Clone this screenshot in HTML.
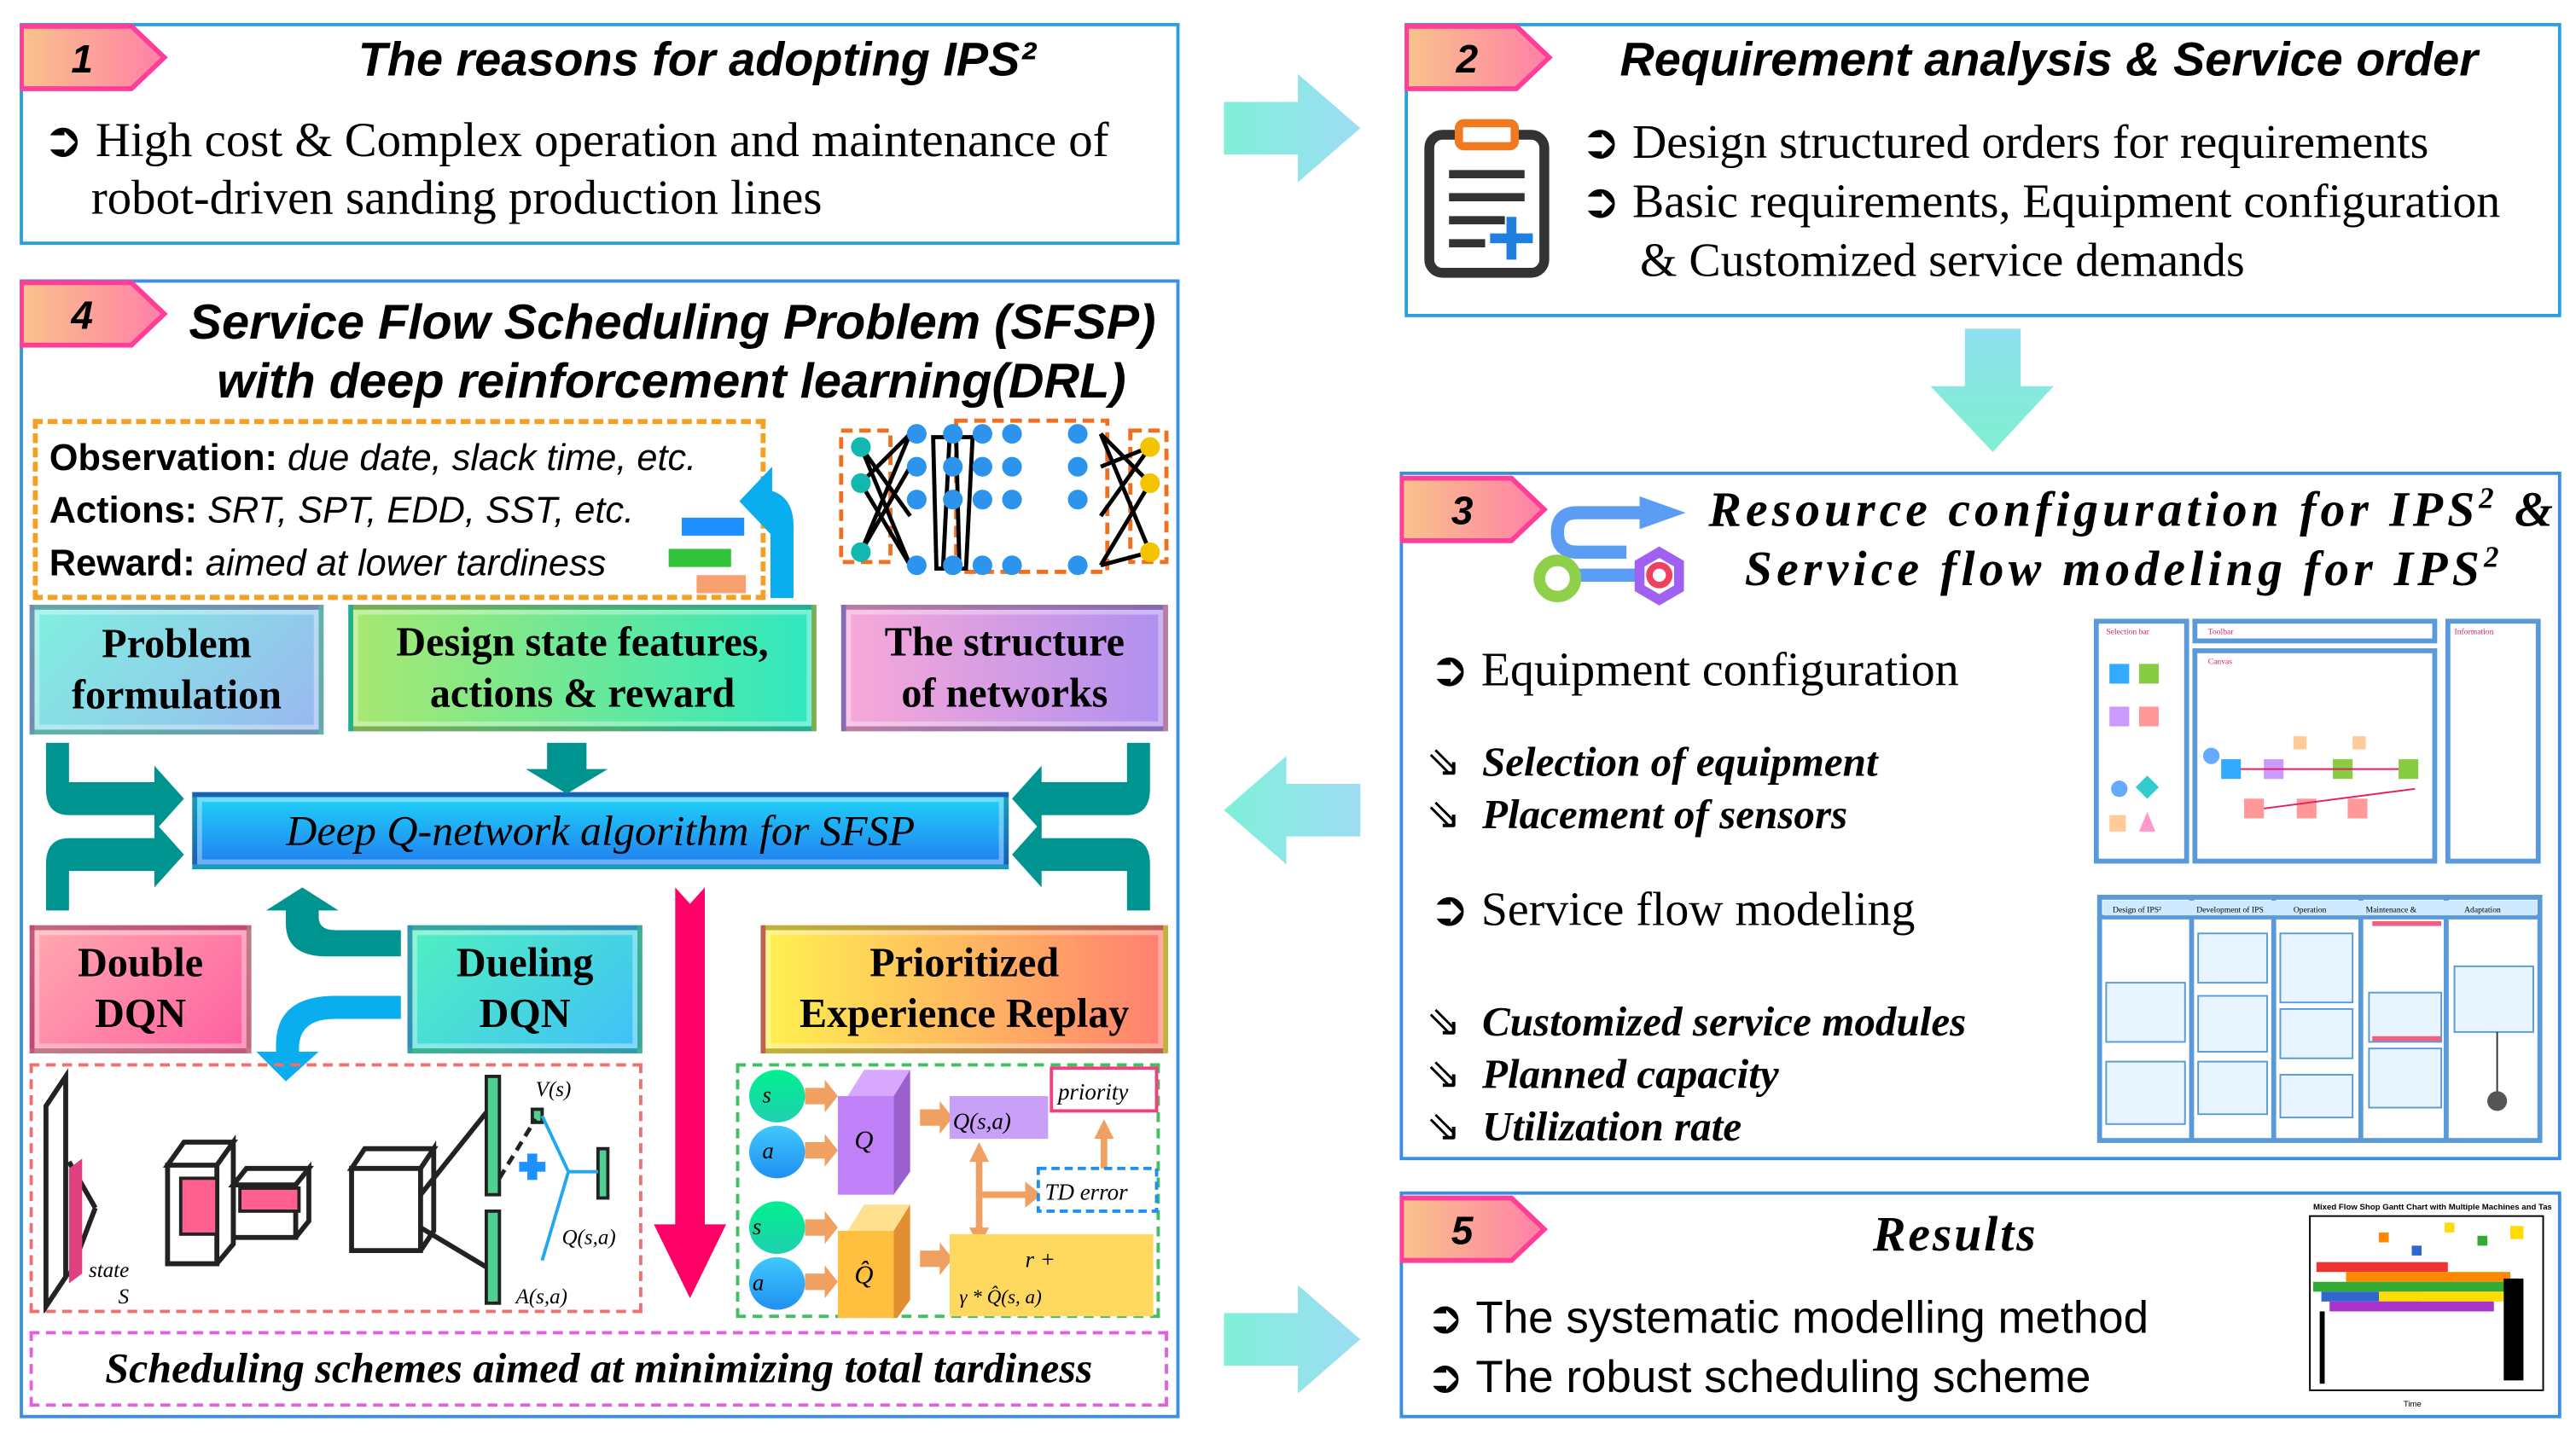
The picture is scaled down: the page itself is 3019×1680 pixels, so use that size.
<!DOCTYPE html>
<html><head><meta charset="utf-8"><style>
*{margin:0;padding:0;box-sizing:border-box}
html,body{width:3019px;height:1680px;background:#fff;overflow:hidden}
#w{position:absolute;left:0;top:0;width:1568px;height:872px;transform:scale(1.9254,1.9266);transform-origin:0 0}
.a{position:absolute}
.box{position:absolute;border:2px solid #2a9fe0}
.t{position:absolute;white-space:nowrap;color:#000}
.ser{font-family:"Liberation Serif",serif}
.sans{font-family:"Liberation Sans",sans-serif}
.bi{font-weight:bold;font-style:italic}
.gbox{position:absolute;border:3px solid rgba(0,0,0,.25);box-shadow:inset 0 0 0 3px rgba(255,255,255,.35);display:flex;align-items:center;justify-content:center;text-align:center;font-family:"Liberation Serif",serif;font-weight:bold;font-size:25px;line-height:31px}
</style></head><body><div id="w">
<svg class="a" style="left:0;top:0" width="1568" height="872">
<defs>
<linearGradient id="bg" x1="0" x2="1"><stop offset="0" stop-color="#f9c38a"/><stop offset="1" stop-color="#ff7fa8"/></linearGradient>
<linearGradient id="ar" x1="0" x2="1"><stop offset="0" stop-color="#7ff0d8"/><stop offset="1" stop-color="#9fdcf5"/></linearGradient>
<linearGradient id="ad" x1="0" y1="0" x2="0" y2="1"><stop offset="0" stop-color="#8fe0f0"/><stop offset="1" stop-color="#7ff0d0"/></linearGradient>
</defs>
<polygon points="745,62 790,62 790,45 828,78 790,111 790,94 745,94" fill="url(#ar)"/>
<polygon points="745,799 790,799 790,782 828,815 790,848 790,831 745,831" fill="url(#ar)"/>
<polygon points="828,477 783,477 783,460 745,493 783,526 783,509 828,509" fill="url(#ar)"/>
<polygon points="1196,200 1230,200 1230,235 1250,235 1213,275 1175,235 1196,235" fill="url(#ad)"/>
</svg>

<!-- Box 1 -->
<div class="box" style="left:12px;top:14px;width:706px;height:135px"></div>
<svg class="a" style="left:12px;top:14px" width="100" height="42"><defs><linearGradient id="bg" x1="0" x2="1"><stop offset="0" stop-color="#f9c38a"/><stop offset="1" stop-color="#ff7fa8"/></linearGradient></defs><polygon points="1,2 68,2 88,21 68,40 1,40" fill="url(#bg)" stroke="#ff3e9a" stroke-width="3"/><text x="38" y="30" font-family="Liberation Sans" font-weight="bold" font-style="italic" font-size="24" text-anchor="middle">1</text></svg>
<div class="t sans bi" style="left:218px;top:21px;font-size:29px">The reasons for adopting IPS²</div>
<div class="t ser" style="left:26px;top:69px;font-size:29.5px;line-height:35px">➲ High cost &amp; Complex operation and maintenance of<br>&nbsp;&nbsp;&nbsp;&nbsp;robot-driven sanding production lines</div>

<!-- Box 2 -->
<div class="box" style="left:855px;top:14px;width:704px;height:179px"></div>
<svg class="a" style="left:855px;top:14px" width="100" height="42"><polygon points="1,2 68,2 88,21 68,40 1,40" fill="url(#bg)" stroke="#ff3e9a" stroke-width="3"/><text x="38" y="30" font-family="Liberation Sans" font-weight="bold" font-style="italic" font-size="24" text-anchor="middle">2</text></svg>
<div class="t sans bi" style="left:986px;top:21px;font-size:29px">Requirement analysis &amp; Service order</div>
<svg class="a" style="left:866px;top:72px" width="80" height="98">
<rect x="4" y="10" width="70" height="84" rx="8" fill="none" stroke="#333" stroke-width="6"/>
<rect x="22" y="3" width="34" height="14" rx="3" fill="#fff" stroke="#f07a20" stroke-width="5"/>
<g stroke="#333" stroke-width="5"><line x1="16" y1="34" x2="62" y2="34"/><line x1="16" y1="48" x2="62" y2="48"/><line x1="16" y1="62" x2="50" y2="62"/><line x1="16" y1="76" x2="38" y2="76"/></g>
<g stroke="#1e7fe0" stroke-width="6"><line x1="54" y1="60" x2="54" y2="86"/><line x1="41" y1="73" x2="67" y2="73"/></g>
</svg>
<div class="t ser" style="left:962px;top:69px;font-size:29px;line-height:36px">➲ Design structured orders for requirements<br>➲ Basic requirements, Equipment configuration<br>&nbsp;&nbsp;&nbsp;&nbsp;&nbsp;&amp; Customized service demands</div>

<!-- Box 3 -->
<div class="box" style="left:852px;top:287px;width:707px;height:419px;border-color:#3b8fe0"></div>
<svg class="a" style="left:852px;top:289px" width="100" height="42"><polygon points="1,2 68,2 88,21 68,40 1,40" fill="url(#bg)" stroke="#ff3e9a" stroke-width="3"/><text x="38" y="30" font-family="Liberation Sans" font-weight="bold" font-style="italic" font-size="24" text-anchor="middle">3</text></svg>
<svg class="a" style="left:930px;top:298px" width="100" height="80">
<path d="M70,14 H30 Q18,14 18,26 Q18,38 30,38 H60" fill="none" stroke="#5b9cf5" stroke-width="8"/>
<polygon points="68,4 96,14 68,24" fill="#5b9cf5"/>
<line x1="30" y1="52" x2="68" y2="52" stroke="#5b9cf5" stroke-width="8"/>
<circle cx="18" cy="54" r="11" fill="none" stroke="#8fd04a" stroke-width="7"/>
<polygon points="80,38 92,45 92,60 80,67 68,60 68,45" fill="#fff" stroke="#a060f0" stroke-width="6"/>
<circle cx="80" cy="52" r="6" fill="none" stroke="#f04060" stroke-width="4"/>
</svg>
<div class="t ser bi" style="left:1040px;top:293px;font-size:30px;letter-spacing:2.6px">Resource configuration for IPS<sup style="font-size:18px">2</sup> &amp;</div>
<div class="t ser bi" style="left:1062px;top:329px;font-size:30px;letter-spacing:2.7px">Service flow modeling for IPS<sup style="font-size:18px">2</sup></div>
<div class="t ser" style="left:870px;top:390px;font-size:29px">➲ Equipment configuration</div>
<div class="t ser bi" style="left:868px;top:448px;font-size:25.5px;line-height:32px"><span style="font-weight:normal;font-style:normal">⇘</span>&nbsp; Selection of equipment<br><span style="font-weight:normal;font-style:normal">⇘</span>&nbsp; Placement of sensors</div>
<div class="t ser" style="left:870px;top:536px;font-size:29px">➲ Service flow modeling</div>
<div class="t ser bi" style="left:868px;top:606px;font-size:25.5px;line-height:32px"><span style="font-weight:normal;font-style:normal">⇘</span>&nbsp; Customized service modules<br><span style="font-weight:normal;font-style:normal">⇘</span>&nbsp; Planned capacity<br><span style="font-weight:normal;font-style:normal">⇘</span>&nbsp; Utilization rate</div>
<svg class="a" style="left:1274px;top:376px" width="275" height="322" font-family="Liberation Serif" font-size="5">
<g fill="none" stroke="#5a9ad8" stroke-width="3">
<rect x="2" y="2" width="55" height="146"/><rect x="62" y="2" width="146" height="12"/><rect x="62" y="20" width="146" height="128"/><rect x="216" y="2" width="55" height="146"/></g>
<text x="8" y="10" fill="#e02060">Selection bar</text><text x="70" y="10" fill="#e02060">Toolbar</text><text x="70" y="28" fill="#e02060">Canvas</text><text x="220" y="10" fill="#e02060">Information</text>
<g fill="#3af"><rect x="10" y="28" width="12" height="12"/><rect x="10" y="54" width="12" height="12" fill="#c9f"/><circle cx="16" cy="104" r="5" fill="#6af"/><rect x="10" y="120" width="10" height="10" fill="#fc9"/></g>
<g fill="#8c4"><rect x="28" y="28" width="12" height="12"/><rect x="28" y="54" width="12" height="12" fill="#f99"/><rect x="28" y="98" width="10" height="10" fill="#3cc" transform="rotate(45 33 103)"/><polygon points="33,118 38,130 28,130" fill="#f9c"/></g>
<g><rect x="78" y="86" width="12" height="12" fill="#3af"/><rect x="104" y="86" width="12" height="12" fill="#c9f"/><rect x="146" y="86" width="12" height="12" fill="#8c4"/><rect x="186" y="86" width="12" height="12" fill="#8c4"/><rect x="92" y="110" width="12" height="12" fill="#f99"/><rect x="124" y="110" width="12" height="12" fill="#f99"/><rect x="155" y="110" width="12" height="12" fill="#f99"/>
<line x1="90" y1="92" x2="186" y2="92" stroke="#e02060"/><line x1="104" y1="116" x2="196" y2="104" stroke="#e02060"/><circle cx="72" cy="84" r="5" fill="#6af"/><rect x="158" y="72" width="8" height="8" fill="#fc9"/><rect x="122" y="72" width="8" height="8" fill="#fc9"/></g>
<g fill="none" stroke="#5a9ad8" stroke-width="3"><rect x="4" y="170" width="268" height="148"/><line x1="4" y1="182" x2="272" y2="182"/><line x1="60" y1="170" x2="60" y2="318"/><line x1="110" y1="170" x2="110" y2="318"/><line x1="163" y1="170" x2="163" y2="318"/><line x1="215" y1="170" x2="215" y2="318"/></g>
<rect x="6" y="172" width="264" height="9" fill="#cfeaff"/>
<text x="12" y="179">Design of IPS²</text><text x="63" y="179">Development of IPS</text><text x="122" y="179">Operation</text><text x="166" y="179">Maintenance &amp;</text><text x="226" y="179">Adaptation</text>
<g fill="#e8f4ff" stroke="#5a9ad8"><rect x="8" y="222" width="48" height="36"/><rect x="8" y="270" width="48" height="38"/><rect x="64" y="192" width="42" height="30"/><rect x="64" y="230" width="42" height="34"/><rect x="64" y="270" width="42" height="32"/><rect x="114" y="192" width="44" height="42"/><rect x="114" y="238" width="44" height="30"/><rect x="114" y="278" width="44" height="26"/><rect x="168" y="228" width="44" height="30"/><rect x="168" y="262" width="44" height="36"/><rect x="220" y="212" width="48" height="40"/></g>
<line x1="170" y1="186" x2="212" y2="186" stroke="#f06080" stroke-width="3"/><line x1="170" y1="256" x2="212" y2="256" stroke="#f06080" stroke-width="3"/>
<line x1="246" y1="252" x2="246" y2="290" stroke="#333"/><circle cx="246" cy="294" r="6" fill="#555"/>
</svg>

<!-- Box 5 -->
<div class="box" style="left:852px;top:725px;width:707px;height:138px;border-color:#3b8fe0"></div>
<svg class="a" style="left:852px;top:727px" width="100" height="42"><polygon points="1,2 68,2 88,21 68,40 1,40" fill="url(#bg)" stroke="#ff3e9a" stroke-width="3"/><text x="38" y="30" font-family="Liberation Sans" font-weight="bold" font-style="italic" font-size="24" text-anchor="middle">5</text></svg>
<div class="t ser bi" style="left:1140px;top:735px;font-size:30px;letter-spacing:1.5px">Results</div>
<div class="t sans" style="left:868px;top:784px;font-size:27.5px;line-height:36px">➲ The systematic modelling method<br>➲ The robust scheduling scheme</div>
<svg class="a" style="left:1388px;top:730px" width="165" height="128" font-family="Liberation Sans" font-size="5">
<text x="20" y="6" font-weight="bold">Mixed Flow Shop Gantt Chart with Multiple Machines and Tasks</text>
<rect x="18" y="10" width="142" height="106" fill="none" stroke="#000"/>
<rect x="22" y="38" width="80" height="6" fill="#e33"/><rect x="40" y="44" width="100" height="6" fill="#f80"/><rect x="20" y="50" width="120" height="6" fill="#3a3"/><rect x="25" y="56" width="60" height="6" fill="#36c"/><rect x="60" y="56" width="80" height="6" fill="#fd0"/><rect x="30" y="62" width="100" height="6" fill="#a3c"/>
<rect x="60" y="20" width="6" height="6" fill="#f80"/><rect x="100" y="14" width="6" height="6" fill="#fd0"/><rect x="140" y="16" width="8" height="8" fill="#fd0"/><rect x="120" y="22" width="6" height="6" fill="#3a3"/><rect x="80" y="28" width="6" height="6" fill="#36c"/>
<g fill="#000"><rect x="24" y="68" width="3" height="44"/><rect x="136" y="48" width="12" height="62"/></g>
<text x="75" y="126">Time</text>
</svg>

<!-- Box 4 -->
<div class="box" style="left:12px;top:170px;width:706px;height:693px;border-color:#3b8fe0"></div>
<svg class="a" style="left:12px;top:170px" width="100" height="42"><polygon points="1,2 68,2 88,21 68,40 1,40" fill="url(#bg)" stroke="#ff3e9a" stroke-width="3"/><text x="38" y="30" font-family="Liberation Sans" font-weight="bold" font-style="italic" font-size="24" text-anchor="middle">4</text></svg>
<div class="t sans bi" style="left:115px;top:180px;font-size:30px">Service Flow Scheduling Problem (SFSP)</div>
<div class="t sans bi" style="left:132px;top:216px;font-size:30px">with deep reinforcement learning(DRL)</div>
<div class="a" style="left:20px;top:255px;width:446px;height:110px;border:3px dashed #f5a020"></div>
<div class="t sans" style="left:30px;top:263px;font-size:22.5px;line-height:32px"><b>Observation:</b> <i>due date, slack time, etc.</i><br><b>Actions:</b> <i>SRT, SPT, EDD, SST, etc.</i><br><b>Reward:</b> <i>aimed at lower tardiness</i></div>
<div class="a" style="left:415px;top:315px;width:38px;height:11px;background:#1e90ff"></div>
<div class="a" style="left:407px;top:334px;width:38px;height:11px;background:#33c33a"></div>
<div class="a" style="left:424px;top:350px;width:30px;height:11px;background:#f9a070"></div>
<svg class="a" style="left:448px;top:280px" width="50" height="84"><path d="M28,84 V40 Q28,25 16,25" fill="none" stroke="#0aaeee" stroke-width="14"/><polygon points="2,25 22,4 22,46" fill="#0aaeee"/></svg>
<svg class="a" style="left:510px;top:254px" width="202" height="96">
<g fill="none" stroke="#f07020" stroke-width="2.5" stroke-dasharray="7 4"><rect x="2" y="8" width="30" height="80"/><rect x="72" y="2" width="92" height="92"/><rect x="178" y="8" width="22" height="80"/></g>
<g stroke="#000" stroke-width="2.5" fill="none">
<path d="M14,18 L44,90 M14,40 L44,10 M14,82 L44,30 M14,18 L44,60 M14,82 L44,10 M14,40 L44,90"/>
<path d="M160,10 L190,82 M160,30 L190,18 M160,90 L190,40 M160,60 L190,18 M160,10 L190,40 M160,90 L190,82"/>
<polygon points="58,12 68,12 64,92 60,92"/><polygon points="72,12 82,12 78,92 74,92"/>
</g>
<g fill="#12b8b0"><circle cx="14" cy="18" r="6"/><circle cx="14" cy="40" r="6"/><circle cx="14" cy="82" r="6"/></g>
<g fill="#f5c400"><circle cx="190" cy="18" r="6"/><circle cx="190" cy="40" r="6"/><circle cx="190" cy="82" r="6"/></g>
<g fill="#2c94ec"><circle cx="48" cy="10" r="6"/><circle cx="48" cy="30" r="6"/><circle cx="48" cy="50" r="6"/><circle cx="48" cy="90" r="6"/><circle cx="70" cy="10" r="6"/><circle cx="70" cy="30" r="6"/><circle cx="70" cy="50" r="6"/><circle cx="70" cy="90" r="6"/><circle cx="88" cy="10" r="6"/><circle cx="88" cy="30" r="6"/><circle cx="88" cy="50" r="6"/><circle cx="88" cy="90" r="6"/><circle cx="106" cy="10" r="6"/><circle cx="106" cy="30" r="6"/><circle cx="106" cy="50" r="6"/><circle cx="106" cy="90" r="6"/><circle cx="146" cy="10" r="6"/><circle cx="146" cy="30" r="6"/><circle cx="146" cy="50" r="6"/><circle cx="146" cy="90" r="6"/></g>
</svg>
<div class="gbox" style="left:18px;top:368px;width:179px;height:79px;background:linear-gradient(135deg,#80f0e0,#9ab8f0)">Problem<br>formulation</div>
<div class="gbox" style="left:212px;top:368px;width:285px;height:77px;background:linear-gradient(90deg,#a8e870,#30e8c0)">Design state features,<br>actions &amp; reward</div>
<div class="gbox" style="left:512px;top:368px;width:199px;height:77px;background:linear-gradient(90deg,#f8a8d8,#b090f0)">The structure<br>of networks</div>
<div class="gbox" style="left:117px;top:482px;width:497px;height:47px;background:linear-gradient(180deg,#20d0f8,#2080f0);font-style:italic;font-weight:normal;font-size:26px">Deep Q-network algorithm for SFSP</div>
<svg class="a" style="left:14px;top:450px" width="700" height="210">
<g fill="#009490">
<polygon points="319,2 343,2 343,18 356,18 331,33 306,18 319,18"/>
<path d="M14,2 H28 V26 H80 V16 L98,36 L80,56 V46 H28 Q14,46 14,30 Z"/>
<path d="M14,104 H28 V80 H80 V90 L98,70 L80,50 V60 H28 Q14,60 14,76 Z"/>
<path d="M686,2 H672 V26 H620 V16 L602,36 L620,56 V46 H672 Q686,46 686,30 Z"/>
<path d="M686,104 H672 V80 H620 V90 L602,70 L620,50 V60 H672 Q686,60 686,76 Z"/>
<path d="M230,116 H190 Q180,116 180,108 V104 H192 L170,90 L148,104 H160 V112 Q160,132 185,132 H230 Z"/>
</g>
<path d="M230,170 H190 Q168,170 168,188 V190 H180 L160,208 L142,190 H154 V186 Q154,156 190,156 H230 Z" fill="#0aaeee"/>
</svg>
<div class="gbox" style="left:18px;top:563px;width:135px;height:78px;background:linear-gradient(135deg,#ffa8b0,#ff60a0)">Double<br>DQN</div>
<div class="gbox" style="left:248px;top:563px;width:143px;height:78px;background:linear-gradient(135deg,#50f0c0,#40c0f8)">Dueling<br>DQN</div>
<div class="gbox" style="left:463px;top:563px;width:248px;height:78px;background:linear-gradient(90deg,#fff050,#ff8070)">Prioritized<br>Experience Replay</div>
<svg class="a" style="left:398px;top:540px" width="44" height="252"><rect x="13" y="0" width="18" height="210" fill="#ff0066"/><polygon points="0,205 44,205 22,250" fill="#ff0066"/><polygon points="13,0 22,10 31,0" fill="#fff"/></svg>
<div class="a" style="left:18px;top:647px;width:373px;height:152px;border:2px dashed #f07070"></div>
<svg class="a" style="left:18px;top:647px" width="373" height="152" font-family="Liberation Serif" font-style="italic" font-size="13">
<g fill="none" stroke="#222" stroke-width="3">
<polygon points="10,26 22,8 22,130 10,148"/>
<path d="M84,62 L94,48 H124 L114,62 Z M84,62 H114 V122 H84 Z M114,62 L124,48 V110 L114,122"/>
<path d="M124,74 L132,64 H170 L162,74 Z M124,74 H162 V106 H124 Z M162,74 L170,64 V96 L162,106"/>
<path d="M196,64 L204,52 H246 L238,64 Z M196,64 H238 V114 H196 Z M238,64 L246,52 V102 L238,114"/>
<line x1="238" y1="80" x2="278" y2="30"/><line x1="238" y1="100" x2="278" y2="124"/>
<line x1="24" y1="60" x2="40" y2="88"/><line x1="24" y1="130" x2="40" y2="88"/>
</g>
<polygon points="24,64 32,58 32,128 24,134" fill="#e04080"/>
<rect x="92" y="70" width="22" height="34" fill="#ff6090" stroke="#222" stroke-width="2"/>
<rect x="128" y="76" width="36" height="14" fill="#ff6090" stroke="#222" stroke-width="2"/>
<rect x="278" y="8" width="8" height="72" fill="#50d090" stroke="#222" stroke-width="2"/>
<rect x="278" y="90" width="8" height="56" fill="#50d090" stroke="#222" stroke-width="2"/>
<rect x="306" y="28" width="6" height="8" fill="#50d090" stroke="#222" stroke-width="2"/>
<rect x="346" y="52" width="6" height="30" fill="#50d090" stroke="#222" stroke-width="2"/>
<path d="M312,32 L328,66 L312,120 M328,66 H346" fill="none" stroke="#1fa8f0" stroke-width="2"/>
<path d="M286,70 L308,34" stroke="#222" stroke-width="2.5" stroke-dasharray="6 4"/>
<rect x="298" y="60" width="16" height="6" fill="#1e90ff"/><rect x="303" y="55" width="6" height="16" fill="#1e90ff"/>
<text x="36" y="130">state</text><text x="54" y="146">S</text><text x="308" y="20">V(s)</text><text x="324" y="110">Q(s,a)</text><text x="296" y="146">A(s,a)</text>
</svg>
<div class="a" style="left:448px;top:647px;width:258px;height:155px;border:2px dashed #40c060"></div>
<svg class="a" style="left:448px;top:647px" width="258" height="155" font-family="Liberation Serif" font-style="italic" font-size="14">
<defs><linearGradient id="gc" x1="0" y1="0" x2="0" y2="1"><stop offset="0" stop-color="#00f090"/><stop offset="1" stop-color="#20d0b0"/></linearGradient>
<linearGradient id="bc" x1="0" y1="0" x2="0" y2="1"><stop offset="0" stop-color="#40c8ff"/><stop offset="1" stop-color="#2090f0"/></linearGradient></defs>
<ellipse cx="25" cy="20" rx="17" ry="16" fill="url(#gc)"/><ellipse cx="25" cy="54" rx="17" ry="16" fill="url(#bc)"/>
<ellipse cx="25" cy="100" rx="17" ry="16" fill="url(#gc)"/><ellipse cx="25" cy="134" rx="17" ry="16" fill="url(#bc)"/>
<text x="16" y="24">s</text><text x="16" y="58">a</text><text x="10" y="104">s</text><text x="10" y="138">a</text>
<g fill="#f0a060"><polygon points="42,15 54,15 54,10 62,20 54,30 54,25 42,25"/><polygon points="42,48 54,48 54,43 62,53 54,63 54,58 42,58"/><polygon points="42,95 54,95 54,90 62,100 54,110 54,105 42,105"/><polygon points="42,128 54,128 54,123 62,133 54,143 54,138 42,138"/><polygon points="112,28 124,28 124,23 132,33 124,43 124,38 112,38"/><polygon points="112,114 124,114 124,109 132,119 124,129 124,124 112,124"/>
<polygon points="148,48 154,60 150,60 150,100 154,100 148,112 142,100 146,100 146,60 142,60"/><polygon points="150,78 176,78 176,72 186,80 176,88 176,82 150,82"/><polygon points="224,34 230,46 226,46 226,64 222,64 222,46 218,46"/></g>
<polygon points="68,20 96,20 106,4 78,4" fill="#d8a8ff"/><rect x="62" y="20" width="34" height="60" fill="#c080f8"/><polygon points="96,20 106,4 106,66 96,80" fill="#9a60d0"/>
<polygon points="68,102 96,102 106,86 78,86" fill="#ffe090"/><rect x="62" y="102" width="34" height="56" fill="#ffc040"/><polygon points="96,102 106,86 106,144 96,158" fill="#e09030"/>
<text x="72" y="52" font-size="16">Q</text><text x="72" y="134" font-size="16">Q̂</text>
<rect x="130" y="20" width="60" height="26" fill="#c8a0f8"/><text x="132" y="40">Q(s,a)</text>
<rect x="192" y="3" width="64" height="26" fill="#fff" stroke="#f04080" stroke-width="2"/><text x="196" y="22">priority</text>
<rect x="184" y="64" width="72" height="26" fill="#fff" stroke="#2090f0" stroke-width="2" stroke-dasharray="5 3"/><text x="188" y="83">TD error</text>
<rect x="130" y="104" width="124" height="50" fill="#ffd860"/><text x="176" y="124">r + </text><text x="136" y="146" font-size="12">γ * Q̂(s, a)</text>
</svg>
<div class="a" style="left:18px;top:810px;width:693px;height:46px;border:2px dashed #e060e0;display:flex;align-items:center;justify-content:center;font-family:'Liberation Serif',serif;font-style:italic;font-weight:bold;font-size:26px">Scheduling schemes aimed at minimizing total tardiness</div>
</div></body></html>
